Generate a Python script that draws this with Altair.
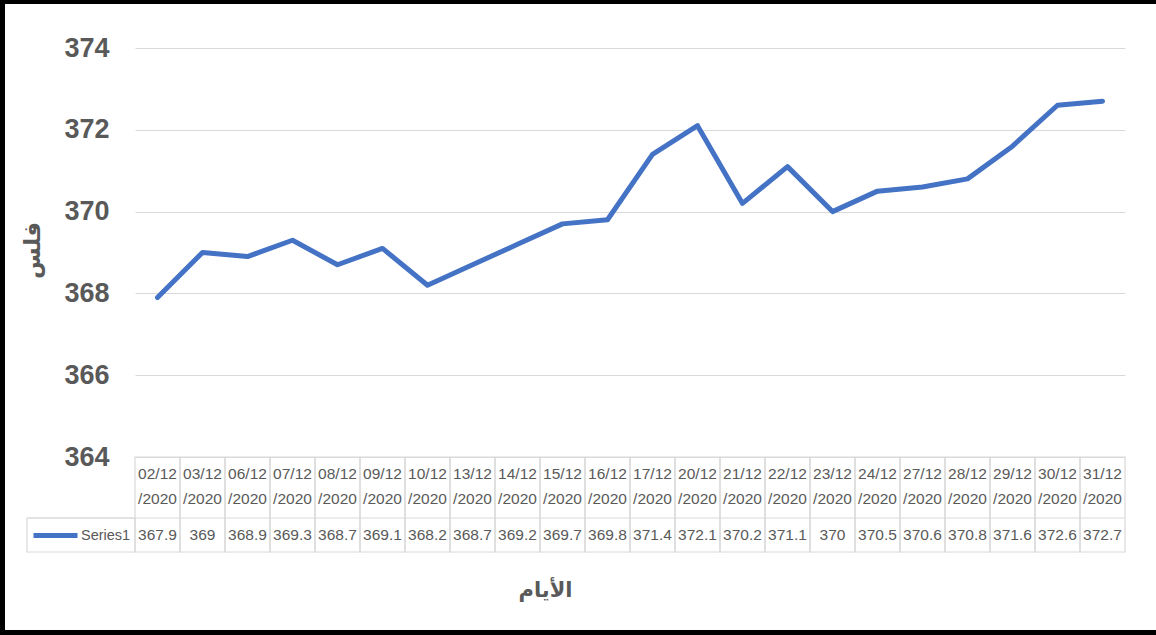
import altair as alt
import pandas as pd

dates = ["02/12/2020", "03/12/2020", "06/12/2020", "07/12/2020", "08/12/2020",
         "09/12/2020", "10/12/2020", "13/12/2020", "14/12/2020", "15/12/2020",
         "16/12/2020", "17/12/2020", "20/12/2020", "21/12/2020", "22/12/2020",
         "23/12/2020", "24/12/2020", "27/12/2020", "28/12/2020", "29/12/2020",
         "30/12/2020", "31/12/2020"]
values = [367.9, 369, 368.9, 369.3, 368.7, 369.1, 368.2, 368.7, 369.2, 369.7,
          369.8, 371.4, 372.1, 370.2, 371.1, 370, 370.5, 370.6, 370.8, 371.6,
          372.6, 372.7]
series_name = "Series1"
y_ticks = [364, 366, 368, 370, 372, 374]
y_title = "فلس"
x_title = "الأيام"

df = pd.DataFrame({"date": dates, "value": values, "series": series_name})
one = pd.DataFrame({"k": [0]})

W, H = 990, 409
GRAY = "#595959"
GRID = "#d9d9d9"
BLUE = "#4472C4"
NUMFONT = "Liberation Sans, Arial, sans-serif"

x_enc = alt.X(
    "date:N", sort=dates,
    scale=alt.Scale(type="band", paddingInner=0, paddingOuter=0),
    axis=alt.Axis(
        title=x_title, labelAngle=0, ticks=False, domain=False, grid=False,
        labelExpr="[substring(datum.value, 0, 5), substring(datum.value, 5)]",
        labelFont=NUMFONT, labelFontSize=15.5, labelColor=GRAY, labelPadding=9,
        labelLineHeight=25, labelBaseline="top",
        titleFont="DejaVu Sans", titleFontSize=21, titleFontWeight="bold",
        titleColor=GRAY, titleX=410, titleY=133, titleAlign="center",
        titleBaseline="middle",
    ),
)

base = alt.Chart(df)

line = base.mark_line(strokeWidth=5, strokeCap="round", strokeJoin="round").encode(
    x=x_enc,
    y=alt.Y(
        "value:Q",
        scale=alt.Scale(domain=[364, 374], nice=False, zero=False),
        axis=alt.Axis(
            values=y_ticks, title=y_title, ticks=False, domain=False,
            gridColor=GRID, gridWidth=1.2,
            labelFont=NUMFONT, labelFontSize=27, labelFontWeight="bold",
            labelColor=GRAY, labelPadding=26,
            titleFont="DejaVu Sans", titleFontSize=23, titleFontWeight="bold",
            titleColor=GRAY, titleX=-103, titleY=202, titleAngle=-90,
            titleAlign="center", titleBaseline="middle",
        ),
    ),
    color=alt.Color(
        "series:N",
        scale=alt.Scale(range=[BLUE]),
        legend=alt.Legend(
            orient="none", legendX=-104, legendY=463, title=None,
            symbolType="stroke", symbolSize=1936, symbolStrokeWidth=5,
            labelFont=NUMFONT, labelFontSize=14.5, labelColor=GRAY,
            labelOffset=1, padding=0,
        ),
    ),
)

cells = base.mark_rect(fillOpacity=0, stroke=GRID, strokeWidth=1.2).encode(
    x=x_enc, y=alt.value(H), y2=alt.value(H + 95)
)

vals = base.mark_text(font=NUMFONT, fontSize=15.5, color=GRAY, baseline="middle").encode(
    x=x_enc, y=alt.value(H + 78), text=alt.Text("value:Q")
)

one_c = alt.Chart(one)
row_sep = one_c.mark_rule(color=GRID, strokeWidth=1.2).encode(
    x=alt.value(-108), x2=alt.value(W), y=alt.value(H + 61)
)
legend_box = one_c.mark_rect(fillOpacity=0, stroke=GRID, strokeWidth=1.2).encode(
    x=alt.value(-108), x2=alt.value(0), y=alt.value(H + 61), y2=alt.value(H + 95)
)

border_top = one_c.mark_rule(color="black", strokeWidth=4).encode(
    x=alt.value(-135), x2=alt.value(W + 31), y=alt.value(-46)
)
border_left = one_c.mark_rule(color="black", strokeWidth=5).encode(
    x=alt.value(-132.5), y=alt.value(-48), y2=alt.value(H + 178)
)
border_bottom = one_c.mark_rule(color="black", strokeWidth=5).encode(
    x=alt.value(-135), x2=alt.value(W + 31), y=alt.value(H + 175.5)
)

chart = alt.layer(
    cells, row_sep, legend_box, line, vals, border_top, border_left, border_bottom
).properties(
    width=W, height=H,
    autosize=alt.AutoSizeParams(type="none"),
    padding={"left": 135, "top": 48, "right": 31, "bottom": 178},
    background="white",
).configure_view(stroke=None)

chart.save("out.html", embed_options={"renderer": "svg", "actions": False})
